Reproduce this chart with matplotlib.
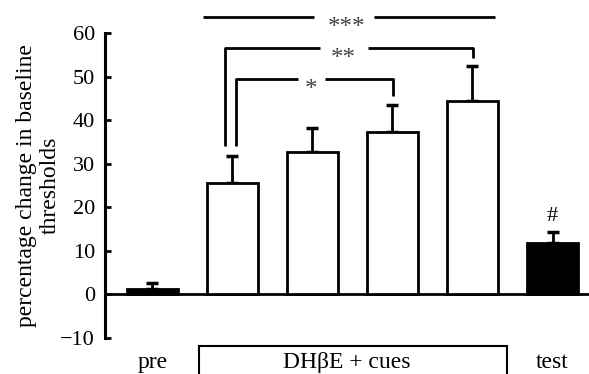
import matplotlib
matplotlib.use("Agg")
import matplotlib.pyplot as plt
from matplotlib.patches import Rectangle

plt.rcParams['font.family'] = ['Liberation Serif', 'DejaVu Serif']
plt.rcParams['mathtext.fontset'] = 'stix'

# data
groups = ['pre', 'DH\u03b2E + cues', 'test']
means = [1.3, 25.5, 32.8, 37.2, 44.5, 11.7]
errs = [1.3, 6.4, 5.5, 6.2, 8.0, 2.7]
facecolors = ['black', 'white', 'white', 'white', 'white', 'black']
yticks = [-10, 0, 10, 20, 30, 40, 50, 60]

FS = 16
fig = plt.figure(figsize=(5.89, 3.74), dpi=100)
ax = fig.add_axes([0.178, 0.0963, 0.822, 0.815])
x = list(range(len(means)))
ax.bar(x, means, width=0.63, color=facecolors, edgecolor='black', linewidth=2.0, zorder=3)
ax.errorbar(x, means, yerr=[[0]*len(errs), errs], fmt='none', ecolor='black',
            elinewidth=2.0, capsize=4.5, capthick=2.5, zorder=2)

ax.set_xlim(-0.594, 5.456)
ax.set_ylim(-10, 60)
ax.set_yticks(yticks)
ax.set_yticklabels(['\u221210' if t < 0 else str(t) for t in yticks], fontsize=FS)
ax.tick_params(axis='y', direction='in', length=4, width=2, pad=7)
ax.set_xticks([])
for s in ['top', 'right']:
    ax.spines[s].set_visible(False)
ax.spines['left'].set_linewidth(2.2)
ax.spines['bottom'].set_linewidth(2.0)
ax.spines['bottom'].set_position(('data', 0))
ax.set_ylabel('percentage change in baseline\nthresholds', fontsize=17, linespacing=1.15, labelpad=0)

# significance brackets: (left x, right x, y, left drop, right drop, text, gap lo, gap hi, text x)
lw = 2.0
brackets = [
    (0.63, 4.28, 63.8, None, None, '***', 2.02, 2.77, 2.42),
    (0.906, 4.006, 56.6, 34.2, 54.4, '**', 2.09, 2.69, 2.39),
    (1.044, 3.006, 49.5, 34.2, 45.6, '*', 1.82, 2.16, 1.98),
]
for xl, xr, yb, dl, dr, txt, g0, g1, xt in brackets:
    kw = dict(color='black', lw=lw, clip_on=False, solid_capstyle='butt')
    lx = [xl, xl, g0] if dl is not None else [xl, g0]
    ly = [dl, yb, yb] if dl is not None else [yb, yb]
    ax.plot(lx, ly, **kw)
    rx = [g1, xr, xr] if dr is not None else [g1, xr]
    ry = [yb, yb, dr] if dr is not None else [yb, yb]
    ax.plot(rx, ry, **kw)
    ax.text(xt, yb - 2.6, txt, ha='center', va='center', fontsize=FS + 2, color='#444444', clip_on=False)

ax.text(5, 17.8, '#', ha='center', va='center', fontsize=FS)

# group labels
ax.text(0, -15.6, groups[0], ha='center', va='center', fontsize=17, clip_on=False)
ax.text(5, -15.6, groups[2], ha='center', va='center', fontsize=17, clip_on=False)
ax.text(2.43, -15.6, groups[1], ha='center', va='center', fontsize=17, clip_on=False)
ax.add_patch(Rectangle((0.58, -25), 3.85, 13.1, fill=False, edgecolor='black', lw=1.5, clip_on=False))

fig.savefig('out.png', dpi=100)
